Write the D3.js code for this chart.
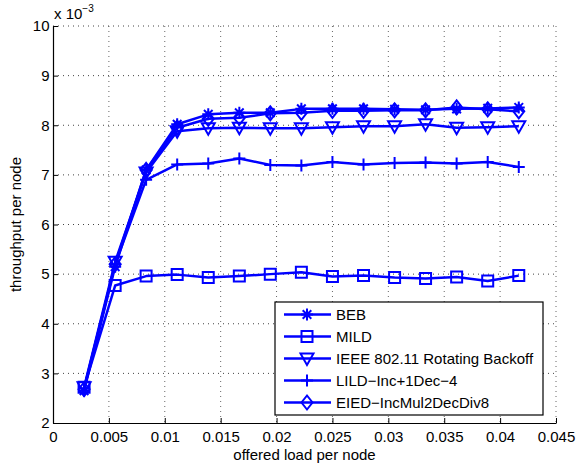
<!DOCTYPE html>
<html>
<head>
<meta charset="utf-8">
<script src="https://cdn.jsdelivr.net/npm/d3@7"></script>
<style>
body { margin: 0; background: #fff; }
text { font-family: "Liberation Sans", Arial, Helvetica, sans-serif; }
</style>
</head>
<body>
<script>
// offered load per node
var load = [0.00278, 0.00556, 0.00833, 0.01111, 0.01389, 0.01667, 0.01944, 0.02222,
            0.025, 0.02778, 0.03056, 0.03333, 0.03611, 0.03889, 0.04167]

// throughput per node (x 10^-3)
var beb  = [2.65, 5.15, 7.10, 8.02, 8.22, 8.25, 8.25, 8.33, 8.33, 8.33, 8.32, 8.31, 8.33, 8.34, 8.36]
var mild = [2.72, 4.77, 4.96, 4.99, 4.93, 4.96, 5.00, 5.04, 4.95, 4.97, 4.93, 4.91, 4.94, 4.86, 4.97]
var ieee = [2.72, 5.25, 7.05, 7.88, 7.94, 7.95, 7.94, 7.94, 7.96, 7.98, 7.98, 8.02, 7.95, 7.96, 7.98]
var lild = [2.70, 5.20, 6.90, 7.21, 7.23, 7.33, 7.20, 7.19, 7.26, 7.21, 7.24, 7.25, 7.23, 7.26, 7.16]
var eied = [2.68, 5.20, 7.10, 7.95, 8.13, 8.15, 8.24, 8.25, 8.29, 8.29, 8.30, 8.30, 8.36, 8.32, 8.28]

var seriesNames = ['BEB', 'MILD', 'IEEE 802.11 Rotating Backoff', 'LILD\u2212Inc+1Dec\u22124', 'EIED\u2212IncMul2DecDiv8']
var seriesMarkers = ['asterisk', 'square', 'triangle', 'plus', 'diamond']
var seriesValues = [beb, mild, ieee, lild, eied]

var xTicks = [0, 0.005, 0.01, 0.015, 0.02, 0.025, 0.03, 0.035, 0.04, 0.045]
var xTickLabels = ['0', '0.005', '0.01', '0.015', '0.02', '0.025', '0.03', '0.035', '0.04', '0.045']
var yTicks = [2, 3, 4, 5, 6, 7, 8, 9, 10]

var W = 576, H = 466
var pLeft = 53, pRight = 556, pTop = 26, pBottom = 423
var blue = '#0000ff'

var svg = d3.select('body').append('svg')
    .attr('width', W)
    .attr('height', H)

var x = d3.scaleLinear().domain([0, 0.045]).range([pLeft, pRight])
var y = d3.scaleLinear().domain([2, 10]).range([pBottom, pTop])

// grid
var grid = svg.append('g')
grid.selectAll('line.gx')
    .data(xTicks.slice(1))
    .enter().append('line')
    .attr('x1', function (d) { return x(d) })
    .attr('x2', function (d) { return x(d) })
    .attr('y1', pTop).attr('y2', pBottom)
    .attr('stroke', '#666').attr('stroke-width', 1)
    .attr('stroke-dasharray', '1,4')
grid.selectAll('line.gy')
    .data(yTicks.slice(1))
    .enter().append('line')
    .attr('y1', function (d) { return y(d) })
    .attr('y2', function (d) { return y(d) })
    .attr('x1', pLeft).attr('x2', pRight)
    .attr('stroke', '#444').attr('stroke-width', 1)
    .attr('stroke-dasharray', '1,4')

// axes
var xAxis = d3.axisBottom(x).tickValues(xTicks)
    .tickFormat(function (d, i) { return xTickLabels[i] })
    .tickSizeInner(-5).tickSizeOuter(0).tickPadding(8.5)
var gx = svg.append('g').attr('transform', 'translate(0,' + pBottom + ')').call(xAxis)
gx.select('.domain').attr('stroke', '#000').attr('stroke-width', 1.2)
gx.selectAll('text').attr('font-size', 15).attr('fill', '#000')

var yAxis = d3.axisLeft(y).tickValues(yTicks)
    .tickSizeInner(-5).tickSizeOuter(0).tickPadding(3.5)
var gy = svg.append('g').attr('transform', 'translate(' + pLeft + ',0)').call(yAxis)
gy.select('.domain').attr('stroke', '#000').attr('stroke-width', 1.2)
gy.selectAll('text').attr('font-size', 15).attr('fill', '#000')

// exponent label
var expo = svg.append('text').attr('x', 54).attr('y', 19).attr('font-size', 15)
expo.append('tspan').text('x 10')
expo.append('tspan').attr('dy', -7).attr('font-size', 10).text('\u22123')

// axis titles
svg.append('text')
    .attr('x', (pLeft + pRight) / 2).attr('y', 460)
    .attr('text-anchor', 'middle').attr('font-size', 15)
    .text('offered load per node')
svg.append('text')
    .attr('transform', 'translate(21,' + ((pTop + pBottom) / 2) + ') rotate(-90)')
    .attr('text-anchor', 'middle').attr('font-size', 15)
    .text('throughput per node')

function markerPath(type) {
    var p = d3.path()
    if (type === 'square') {
        p.rect(-5.5, -5.5, 11, 11)
    } else if (type === 'triangle') {
        p.moveTo(-6.5, -5); p.lineTo(6.5, -5); p.lineTo(0, 6.5); p.closePath()
    } else if (type === 'diamond') {
        p.moveTo(0, -7); p.lineTo(5.5, 0); p.lineTo(0, 7); p.lineTo(-5.5, 0); p.closePath()
    } else if (type === 'plus') {
        p.moveTo(-6, 0); p.lineTo(6, 0); p.moveTo(0, -6); p.lineTo(0, 6)
    } else if (type === 'asterisk') {
        p.moveTo(-6, 0); p.lineTo(6, 0); p.moveTo(0, -6); p.lineTo(0, 6)
        p.moveTo(-4.3, -4.3); p.lineTo(4.3, 4.3); p.moveTo(-4.3, 4.3); p.lineTo(4.3, -4.3)
    }
    return p.toString()
}

var line = d3.line()
    .x(function (d) { return x(d[0]) })
    .y(function (d) { return y(d[1]) })

seriesValues.forEach(function (vals, s) {
    var pts = vals.map(function (v, i) { return [load[i], v] })
    var g = svg.append('g')
    g.append('path')
        .datum(pts)
        .attr('d', line)
        .attr('fill', 'none')
        .attr('stroke', blue)
        .attr('stroke-width', 2.5)
        .attr('stroke-linejoin', 'round')
    g.selectAll('path.m')
        .data(pts)
        .enter().append('path')
        .attr('class', 'm')
        .attr('transform', function (d) { return 'translate(' + x(d[0]) + ',' + y(d[1]) + ')' })
        .attr('d', markerPath(seriesMarkers[s]))
        .attr('fill', 'none')
        .attr('stroke', blue)
        .attr('stroke-width', 2)
})

// legend
var lg = svg.append('g')
lg.append('rect')
    .attr('x', 275).attr('y', 302).attr('width', 268).attr('height', 113)
    .attr('fill', '#fff').attr('stroke', '#000').attr('stroke-width', 1.2)
seriesNames.forEach(function (name, i) {
    var ly = 314.5 + i * 22
    lg.append('line')
        .attr('x1', 284).attr('x2', 331).attr('y1', ly).attr('y2', ly)
        .attr('stroke', blue).attr('stroke-width', 2.5)
    lg.append('path')
        .attr('transform', 'translate(307,' + ly + ')')
        .attr('d', markerPath(seriesMarkers[i]))
        .attr('fill', 'none').attr('stroke', blue).attr('stroke-width', 2)
    lg.append('text')
        .attr('x', 336).attr('y', ly + 5.5)
        .attr('font-size', 15)
        .text(name)
})
</script>
</body>
</html>
